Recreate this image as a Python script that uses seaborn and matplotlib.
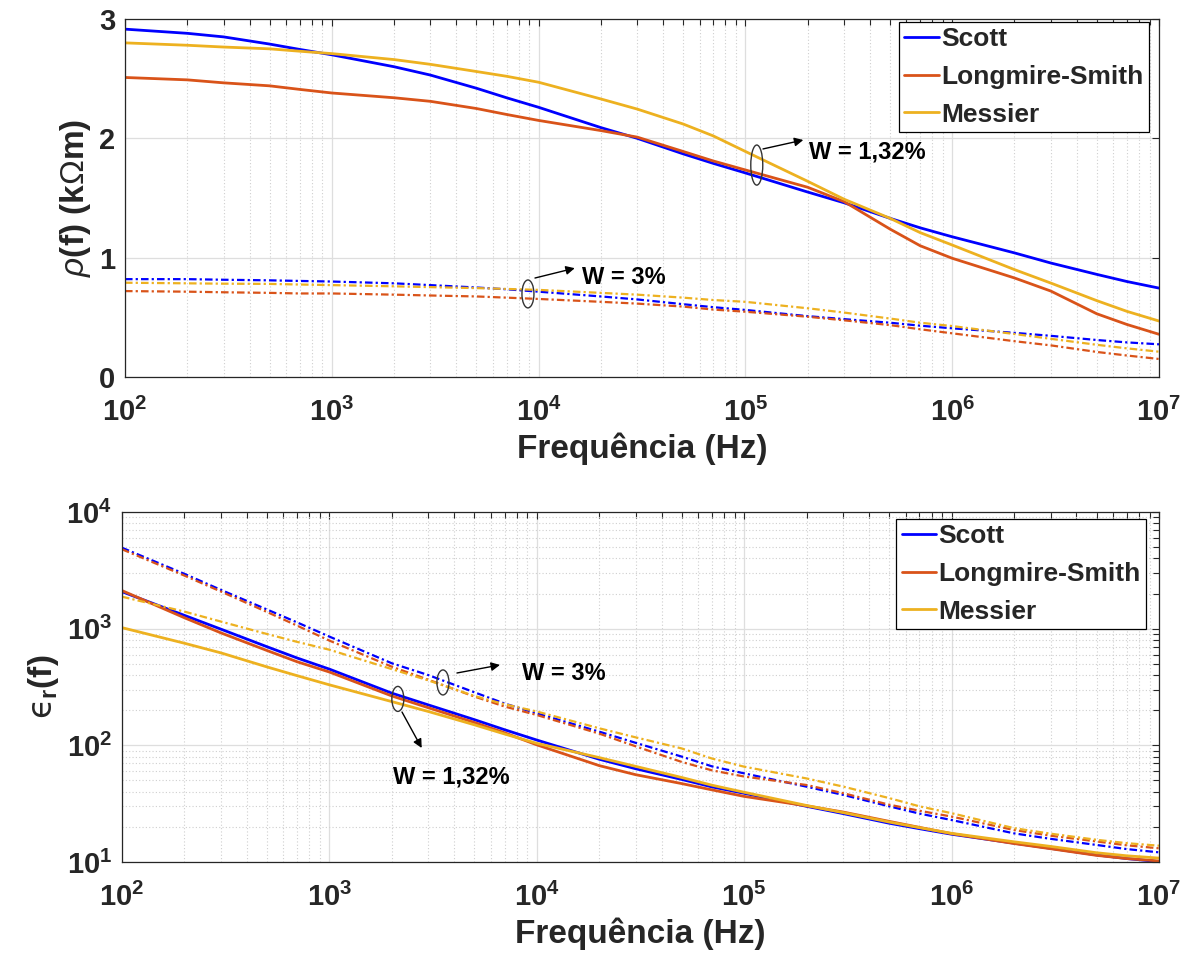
import numpy as np
import pandas as pd
import matplotlib
matplotlib.use("Agg")
import matplotlib.pyplot as plt
from matplotlib.patches import Ellipse
from matplotlib.ticker import FixedLocator, FuncFormatter, NullLocator, LogLocator
import seaborn as sns

# ---------------- data ----------------
freq = [1e2, 2e2, 3e2, 5e2, 7e2,
        1e3, 2e3, 3e3, 5e3, 7e3,
        1e4, 2e4, 3e4, 5e4, 7e4,
        1e5, 2e5, 3e5, 5e5, 7e5,
        1e6, 2e6, 3e6, 5e6, 7e6,
        1e7]

# resistivity rho(f) in kOhm.m, W = 1,32 %
rho_scott_132 = [2.915, 2.88, 2.85, 2.79, 2.745,
                 2.70, 2.60, 2.53, 2.42, 2.34,
                 2.26, 2.09, 2.00, 1.87, 1.79,
                 1.71, 1.55, 1.46, 1.33, 1.25,
                 1.175, 1.04, 0.955, 0.86, 0.80,
                 0.745]
rho_ls_132 = [2.51, 2.49, 2.465, 2.44, 2.41,
              2.38, 2.34, 2.31, 2.25, 2.20,
              2.15, 2.065, 2.01, 1.89, 1.81,
              1.735, 1.59, 1.47, 1.24, 1.10,
              0.995, 0.83, 0.72, 0.53, 0.44,
              0.358]
rho_messier_132 = [2.80, 2.78, 2.765, 2.75, 2.73,
                   2.71, 2.66, 2.62, 2.56, 2.52,
                   2.47, 2.33, 2.245, 2.12, 2.02,
                   1.89, 1.64, 1.49, 1.33, 1.21,
                   1.106, 0.90, 0.787, 0.64, 0.55,
                   0.469]
# resistivity rho(f), W = 3 %
rho_scott_3 = [0.82, 0.82, 0.815, 0.81, 0.805,
               0.80, 0.785, 0.77, 0.75, 0.735,
               0.715, 0.675, 0.65, 0.61, 0.585,
               0.562, 0.51, 0.485, 0.455, 0.43,
               0.408, 0.37, 0.345, 0.31, 0.29,
               0.274]
rho_ls_3 = [0.72, 0.715, 0.71, 0.705, 0.70,
            0.70, 0.69, 0.683, 0.675, 0.665,
            0.654, 0.63, 0.615, 0.59, 0.565,
            0.547, 0.505, 0.475, 0.435, 0.40,
            0.366, 0.30, 0.265, 0.21, 0.18,
            0.151]
rho_messier_3 = [0.79, 0.785, 0.782, 0.78, 0.775,
                 0.77, 0.76, 0.753, 0.745, 0.738,
                 0.73, 0.705, 0.69, 0.665, 0.645,
                 0.63, 0.576, 0.54, 0.49, 0.455,
                 0.427, 0.36, 0.32, 0.27, 0.24,
                 0.212]

# relative permittivity eps_r(f), W = 1,32 %
eps_scott_132 = [2075, 1300, 990, 700, 560,
                 450, 280, 222, 166, 136,
                 111, 76, 63, 51, 44,
                 38.8, 30, 26, 21.5, 19.3,
                 17.3, 14.5, 13.1, 11.5, 10.7,
                 10.07]
eps_ls_132 = [2120, 1240, 920, 650, 520,
              425, 265, 210, 157, 128,
              101, 67, 56, 47, 41.5,
              36.5, 30.3, 26.8, 22.3, 19.8,
              17.5, 14.4, 13.0, 11.4, 10.7,
              10.2]
eps_messier_132 = [1020, 750, 620, 470, 395,
                   330, 237, 195, 150, 125,
                   104, 78.5, 66, 53, 45.5,
                   39.6, 30.5, 26.5, 22, 19.7,
                   17.6, 14.9, 13.6, 12.0, 11.3,
                   10.8]
# relative permittivity eps_r(f), W = 3 %
eps_scott_3 = [4940, 2950, 2150, 1460, 1130,
               855, 505, 400, 285, 228,
               188, 131, 105, 80, 66,
               57.5, 44.2, 37.6, 30, 26,
               22.9, 17.6, 15.8, 14.0, 12.9,
               12.1]
eps_ls_3 = [4790, 2850, 2080, 1390, 1060,
            790, 472, 365, 262, 215,
            182, 126, 98, 72, 61,
            54, 45.7, 38.9, 31, 27.5,
            24.5, 18.8, 16.8, 15.0, 13.9,
            13.1]
eps_messier_3 = [1880, 1400, 1150, 900, 770,
                 660, 450, 360, 265, 225,
                 195, 140, 117, 94, 77,
                 65.6, 52, 44.3, 35.3, 30,
                 26.2, 19.5, 17.5, 15.5, 14.5,
                 13.8]

models = ["Scott", "Longmire-Smith", "Messier"]
colors = {"Scott": "#0000FF", "Longmire-Smith": "#D95319", "Messier": "#EDB120"}

rho_series = {("Scott", "1,32%"): rho_scott_132, ("Longmire-Smith", "1,32%"): rho_ls_132,
              ("Messier", "1,32%"): rho_messier_132, ("Scott", "3%"): rho_scott_3,
              ("Longmire-Smith", "3%"): rho_ls_3, ("Messier", "3%"): rho_messier_3}
eps_series = {("Scott", "1,32%"): eps_scott_132, ("Longmire-Smith", "1,32%"): eps_ls_132,
              ("Messier", "1,32%"): eps_messier_132, ("Scott", "3%"): eps_scott_3,
              ("Longmire-Smith", "3%"): eps_ls_3, ("Messier", "3%"): eps_messier_3}

# ---------------- style ----------------
sns.set_theme(style="white")
plt.rcParams["font.family"] = ["Liberation Sans", "DejaVu Sans"]
plt.rcParams["mathtext.fontset"] = "custom"
plt.rcParams["mathtext.rm"] = "Liberation Sans"
plt.rcParams["mathtext.it"] = "Liberation Sans:italic"
plt.rcParams["mathtext.bf"] = "Liberation Sans:bold"
plt.rcParams["mathtext.sf"] = "DejaVu Sans"
plt.rcParams["axes.unicode_minus"] = False

AXC = "#262626"
DASHDOT = (0, (3.4, 1.4, 1.0, 1.4))

fig = plt.figure(figsize=(12.03, 9.65), dpi=100)
ax1 = fig.add_axes([125 / 1203, 1 - 377 / 965, 1034 / 1203, 358 / 965])
ax2 = fig.add_axes([122 / 1203, 1 - 862 / 965, 1037 / 1203, 350 / 965])


def draw_series(ax, series):
    handles = {}
    for w in ["1,32%", "3%"]:
        for m in models:
            df = pd.DataFrame({"f": freq, "v": series[(m, w)]})
            n_before = len(ax.lines)
            sns.lineplot(data=df, x="f", y="v", ax=ax, color=colors[m],
                         linewidth=2.0 if w == "1,32%" else 1.6,
                         linestyle="-" if w == "1,32%" else DASHDOT,
                         estimator=None, sort=True, legend=False)
            if w == "1,32%":
                handles[m] = ax.lines[n_before]
    return [handles[m] for m in models]


def decade_label(v, pos):
    return r"$\mathbf{10^{%d}}$" % int(round(np.log10(v)))


def style_axes(ax, log_y):
    ax.set_xscale("log")
    ax.set_xlim(1e2, 1e7)
    ax.xaxis.set_major_locator(FixedLocator([1e2, 1e3, 1e4, 1e5, 1e6, 1e7]))
    ax.xaxis.set_minor_locator(LogLocator(base=10, subs=np.arange(2, 10), numticks=20))
    ax.xaxis.set_major_formatter(FuncFormatter(decade_label))
    if log_y:
        ax.set_yscale("log")
        ax.set_ylim(10, 1e4)
        ax.yaxis.set_major_locator(FixedLocator([1e1, 1e2, 1e3, 1e4]))
        ax.yaxis.set_minor_locator(LogLocator(base=10, subs=np.arange(2, 10), numticks=20))
        ax.yaxis.set_major_formatter(FuncFormatter(decade_label))
    else:
        ax.set_ylim(0, 3)
        ax.yaxis.set_major_locator(FixedLocator([0, 1, 2, 3]))
        ax.yaxis.set_minor_locator(NullLocator())
        ax.yaxis.set_major_formatter(FuncFormatter(lambda v, p: "%d" % v))
    ax.grid(True, which="major", color="#dedede", linewidth=0.9, linestyle="-")
    ax.grid(True, which="minor", color="#cfcfcf", linewidth=0.8, linestyle=(0, (1, 2)))
    ax.set_axisbelow(True)
    for s in ax.spines.values():
        s.set_color(AXC)
        s.set_linewidth(0.9)
        s.set_visible(True)
    ax.tick_params(which="both", direction="in", top=True, right=True,
                   color=AXC, width=0.8)
    ax.tick_params(which="major", length=5, labelsize=21, labelcolor=AXC)
    ax.tick_params(which="minor", length=4)
    ax.tick_params(axis="x", which="major", pad=15)
    ax.tick_params(axis="y", which="major", pad=7)
    for lab in ax.get_xticklabels() + ax.get_yticklabels():
        lab.set_fontweight("bold")
    ax.set_xlabel("Frequência (Hz)", fontsize=24, fontweight="bold", color=AXC, labelpad=4)


h1 = draw_series(ax1, rho_series)
style_axes(ax1, log_y=False)
ax1.set_ylabel(r"$\rho$(f) (k$\Omega$m)", fontsize=24, fontweight="bold", color=AXC, labelpad=4)

h2 = draw_series(ax2, eps_series)
style_axes(ax2, log_y=True)
ax2.set_ylabel("$\\mathsf{\u03f5}_{\\mathbf{r}}$(f)", fontsize=24, fontweight="bold",
               color=AXC, labelpad=4)

leg_kw = dict(frameon=True, fancybox=False, framealpha=1, edgecolor="black",
              borderaxespad=0, handlelength=1.3, handletextpad=0.1,
              labelspacing=0.52, borderpad=0.2,
              prop={"weight": "bold", "size": 19})
lg1 = ax1.legend(h1, models, loc="upper right", bbox_to_anchor=(0.9903, 0.9916), **leg_kw)
lg2 = ax2.legend(h2, models, loc="upper right", bbox_to_anchor=(0.9875, 0.98), **leg_kw)
for lg in (lg1, lg2):
    lg.get_frame().set_linewidth(0.9)
    for line in lg.get_lines():
        line.set_linewidth(2.0)


def mark_group(ax, center, size, tail, head, text_xy, text):
    ax.add_patch(Ellipse(center, size[0], size[1], transform=ax.transAxes,
                         fill=False, edgecolor="#333333", linewidth=1.0, zorder=5))
    ax.annotate("", xy=head, xytext=tail, xycoords="axes fraction",
                textcoords="axes fraction",
                arrowprops=dict(arrowstyle="-|>", color="black", lw=1.0,
                                mutation_scale=13, shrinkA=0, shrinkB=0), zorder=6)
    ax.text(text_xy[0], text_xy[1], text, transform=ax.transAxes, fontsize=17,
            fontweight="bold", color="black", ha="left", va="center", zorder=6)


mark_group(ax1, (0.611, 0.592), (0.0116, 0.112), (0.617, 0.637), (0.656, 0.662),
           (0.6615, 0.628), "W = 1,32%")
mark_group(ax1, (0.3897, 0.232), (0.0116, 0.078), (0.3965, 0.2765), (0.435, 0.304),
           (0.442, 0.279), "W = 3%")
mark_group(ax2, (0.3095, 0.513), (0.0116, 0.0714), (0.323, 0.54), (0.3645, 0.563),
           (0.3857, 0.54), "W = 3%")
mark_group(ax2, (0.266, 0.466), (0.0116, 0.0714), (0.270, 0.4286), (0.289, 0.3257),
           (0.2613, 0.243), "W = 1,32%")

fig.savefig("out.png", dpi=100)
